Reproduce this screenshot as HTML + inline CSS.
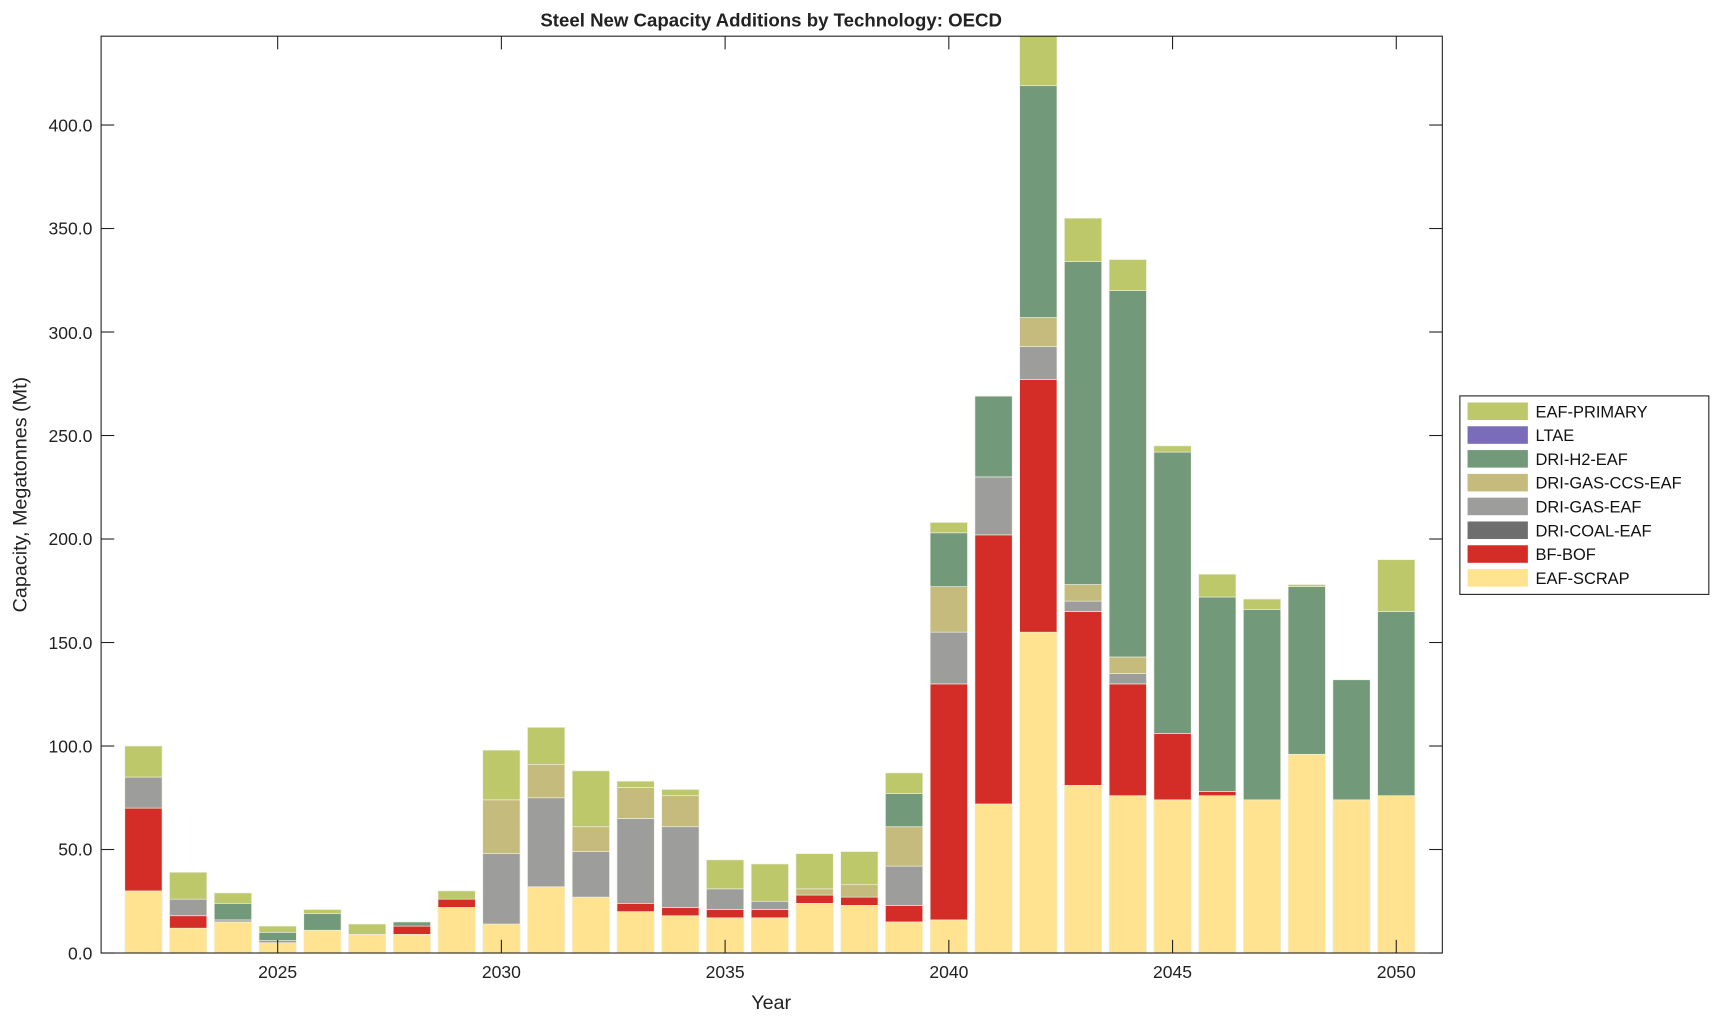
<!DOCTYPE html>
<html><head><meta charset="utf-8"><style>html,body{margin:0;padding:0;background:#fff}svg{display:block}</style></head>
<body>
<svg id="s" width="1720" height="1021" viewBox="0 0 1568 931" xmlns="http://www.w3.org/2000/svg" font-family="Liberation Sans, Arial, sans-serif">
<rect width="1568" height="931" fill="#fff"/>
<g id="bars"></g>
<rect x="92" y="33" width="1223" height="836" fill="none" stroke="#222" stroke-width="1"/>
<g stroke="#222" stroke-width="1" id="ticks"></g>
<g font-size="16" fill="#222" text-anchor="end">
<text x="84" y="875">0.0</text>
<text x="84" y="780">50.0</text>
<text x="84" y="686">100.0</text>
<text x="84" y="592">150.0</text>
<text x="84" y="497">200.0</text>
<text x="84" y="403">250.0</text>
<text x="84" y="309">300.0</text>
<text x="84" y="214">350.0</text>
<text x="84" y="120">400.0</text>
</g>
<g font-size="16" fill="#222" text-anchor="middle">
<text x="253" y="892">2025</text>
<text x="457" y="892">2030</text>
<text x="661" y="892">2035</text>
<text x="865" y="892">2040</text>
<text x="1069" y="892">2045</text>
<text x="1273" y="892">2050</text>
<text x="703" y="920" font-size="18">Year</text>
<text x="703" y="24" font-size="17" font-weight="bold">Steel New Capacity Additions by Technology: OECD</text>
<text transform="translate(24,451) rotate(-90)" font-size="18">Capacity, Megatonnes (Mt)</text>
</g>
<rect x="1331" y="361" width="227" height="181" fill="#fff" stroke="#222" stroke-width="1"/>
<g id="leg" font-size="15" fill="#111"></g>
</svg>
<script>
var C=['#FFE391','#D42C26','#6E6E6E','#9D9D9B','#C5BB7C','#73997B','#7A6CB8','#BCC86A'];
// cumulative tops: scrap,bf,coal,gas,ccs,h2,ltae,prim
var D={2022:[30,70,70,85,85,85,85,100],2023:[12,18,18,26,26,26,26,39],2024:[15,15,15,16,16,24,24,29],2025:[5,5,5,6,6,10,10,13],
2026:[11,11,11,11,11,19,19,21],2027:[9,9,9,9,9,9,9,14],2028:[9,13,13,13,13,15,15,15],2029:[22,26,26,26,26,26,26,30],
2030:[14,14,14,48,74,74,74,98],2031:[32,32,32,75,91,91,91,109],2032:[27,27,27,49,61,61,61,88],2033:[20,24,24,65,80,80,80,83],
2034:[18,22,22,61,76,76,76,79],2035:[17,21,21,31,31,31,31,45],2036:[17,21,21,25,25,25,25,43],2037:[24,28,28,28,31,31,31,48],
2038:[23,27,27,27,33,33,33,49],2039:[15,23,23,42,61,77,77,87],2040:[16,130,130,155,177,203,203,208],2041:[72,202,202,230,230,269,269,269],
2042:[155,277,277,293,307,419,419,443],2043:[81,165,165,170,178,334,334,355],2044:[76,130,130,135,143,320,320,335],2045:[74,106,106,106,106,242,242,245],
2046:[76,78,78,78,78,172,172,183],2047:[74,74,74,74,74,166,166,171],2048:[96,96,96,96,96,177,177,178],2049:[74,74,74,74,74,132,132,132],2050:[76,76,76,76,76,165,165,190]};
var NS='http://www.w3.org/2000/svg',g=document.getElementById('bars');
function Y(v){return 869-1.8875*v}
function r(p,x,y,w,h,f,st){var e=document.createElementNS(NS,'rect');e.setAttribute('x',x);e.setAttribute('y',y);e.setAttribute('width',w);e.setAttribute('height',h);e.setAttribute('fill',f);if(st){e.setAttribute('stroke',st);e.setAttribute('stroke-width','0.6');}p.appendChild(e);}
for(var yr in D){var a=D[yr],cx=253+(yr-2025)*40.8,prev=0;
for(var i=0;i<8;i++){var v=Math.min(a[i],443);if(v>prev){r(g,cx-17,Y(v),34,Y(prev)-Y(v),C[i],'#eef0e0');}prev=Math.max(prev,v);}}
var t=document.getElementById('ticks');
function L(x1,y1,x2,y2){var e=document.createElementNS(NS,'line');e.setAttribute('x1',x1);e.setAttribute('y1',y1);e.setAttribute('x2',x2);e.setAttribute('y2',y2);t.appendChild(e);}
for(var v=0;v<=400;v+=50){L(92,Y(v),104,Y(v));L(1315,Y(v),1303,Y(v));}
for(var yy=2025;yy<=2050;yy+=5){var x=253+(yy-2025)*40.8;L(x,869,x,857);L(x,33,x,45);}
var names=['EAF-PRIMARY','LTAE','DRI-H2-EAF','DRI-GAS-CCS-EAF','DRI-GAS-EAF','DRI-COAL-EAF','BF-BOF','EAF-SCRAP'];
var lc=['#BCC86A','#7A6CB8','#73997B','#C5BB7C','#9D9D9B','#6E6E6E','#D42C26','#FFE391'];
var lg=document.getElementById('leg');
for(var i=0;i<8;i++){var y=367+i*21.7;r(lg,1338,y,55,16,lc[i]);var tx=document.createElementNS(NS,'text');tx.setAttribute('x',1400);tx.setAttribute('y',y+13.5);tx.textContent=names[i];lg.appendChild(tx);}
</script>
</body></html>
